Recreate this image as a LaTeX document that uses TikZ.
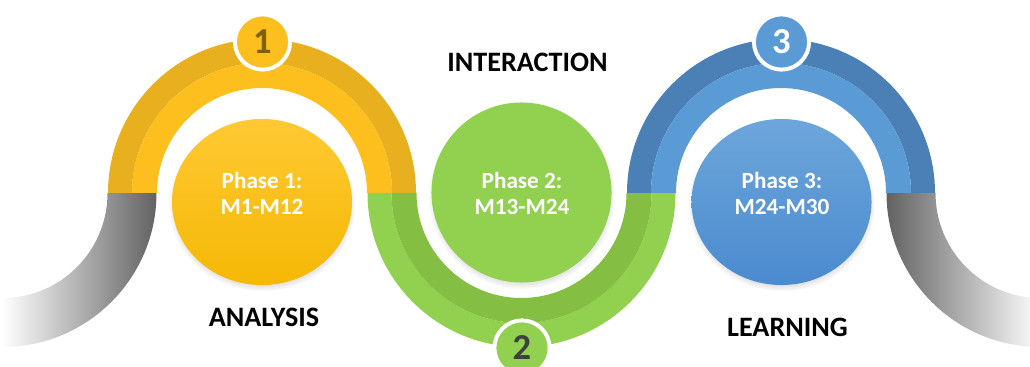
\documentclass[tikz,border=0pt]{standalone}
\usepackage{fontspec}
\setmainfont{Carlito}
\definecolor{YellowDark}{HTML}{E8B01E}
\definecolor{YellowLight}{HTML}{FDBF1D}
\definecolor{YellowTop}{HTML}{FFC933}
\definecolor{YellowBottom}{HTML}{F5B805}
\definecolor{GreenDark}{HTML}{84BE43}
\definecolor{GreenLight}{HTML}{92D050}
\definecolor{BlueDark}{HTML}{4A80B6}
\definecolor{BlueLight}{HTML}{5B9BD5}
\definecolor{BlueTop}{HTML}{6DA6DB}
\definecolor{BlueBottom}{HTML}{4A8ACE}
\definecolor{Olive}{HTML}{7F6000}
\definecolor{Slate}{HTML}{404040}
\definecolor{Tail}{HTML}{626262}
\usetikzlibrary{shapes.geometric,shadows}

\begin{document}
\begin{tikzpicture}
    [x=0.025cm, y=0.025cm,
    disc/.style={ellipse, inner sep=0pt, minimum width=4.5cm, minimum height=4.15cm,
        circular drop shadow={shadow scale=1.04, shadow xshift=0pt, shadow yshift=-2pt, opacity=.45}},
    phase/.style={text=white, align=center, font=\fontsize{16.5}{19}\selectfont\bfseries},
    badge/.style={circle, draw=white, line width=2.8pt, minimum size=1.38cm, inner sep=0pt,
        font=\fontsize{26}{26}\selectfont\bfseries},
    stage/.style={text=black, font=\fontsize{20}{20}\selectfont\bfseries}]

    \useasboundingbox (0,0) rectangle (1030,367);

    % grey tails
    \begin{scope}[shift={(2.5,174)}]
        \shade[left color=white, right color=Tail] (0:105) arc[start angle=0, end angle=-90, radius=105]
            -- (-90:154) arc[start angle=-90, end angle=0, radius=154] -- cycle;
    \end{scope}
    \begin{scope}[shift={(1040.5,174)}]
        \shade[left color=Tail, right color=white] (180:154) arc[start angle=180, end angle=270, radius=154]
            -- (270:105) arc[start angle=270, end angle=180, radius=105] -- cycle;
    \end{scope}

    % yellow arch
    \begin{scope}[shift={(262,174)}]
        \fill[YellowDark] (180:154) arc[start angle=180, end angle=0, radius=154]
            -- (0:130) arc[start angle=0, end angle=180, radius=130] -- cycle;
        \fill[YellowLight] (180:130) arc[start angle=180, end angle=0, radius=130]
            -- (0:105) arc[start angle=0, end angle=180, radius=105] -- cycle;
    \end{scope}

    % green bowl
    \begin{scope}[shift={(521.5,174)}]
        \fill[GreenLight] (180:154) arc[start angle=180, end angle=360, radius=154]
            -- (0:130) arc[start angle=360, end angle=180, radius=130] -- cycle;
        \fill[GreenDark] (180:130) arc[start angle=180, end angle=360, radius=130]
            -- (0:105) arc[start angle=360, end angle=180, radius=105] -- cycle;
    \end{scope}

    % blue arch
    \begin{scope}[shift={(781,174)}]
        \fill[BlueDark] (180:154) arc[start angle=180, end angle=0, radius=154]
            -- (0:130) arc[start angle=0, end angle=180, radius=130] -- cycle;
        \fill[BlueLight] (180:130) arc[start angle=180, end angle=0, radius=130]
            -- (0:105) arc[start angle=0, end angle=180, radius=105] -- cycle;
    \end{scope}

    % phases
    \node [disc, top color=YellowTop, bottom color=YellowBottom] (disc1) at (262,165) {};
    \node [disc, minimum height=4.5cm, fill=GreenLight] (disc2) at (521.5,174.5) {};
    \node [disc, top color=BlueTop, bottom color=BlueBottom] (disc3) at (781.5,165) {};

    \node [phase] (phase1) at (262,173.5) {Phase 1:\\M1-M12};
    \node [phase] (phase2) at (522,173.5) {Phase 2:\\M13-M24};
    \node [phase] (phase3) at (782,173.5) {Phase 3:\\M24-M30};

    % numbers
    \node [badge, fill=YellowLight, text=Olive] (badge1) at (262.5,325) {1};
    \node [badge, fill=GreenLight, text=Slate] (badge2) at (522,19) {2};
    \node [badge, fill=BlueLight, text=white] (badge3) at (781.5,325) {3};

    \node [stage] (analysis) at (264,49.5) {ANALYSIS};
    \node [stage] (interaction) at (527.5,304.5) {INTERACTION};
    \node [stage] (learning) at (787.5,39.5) {LEARNING};
\end{tikzpicture}
\end{document}
